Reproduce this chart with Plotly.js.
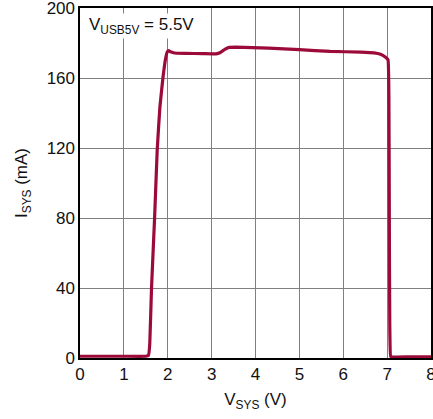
<!DOCTYPE html>
<html>
<head>
<meta charset="utf-8">
<script src="https://cdn.plot.ly/plotly-3.0.1.min.js"></script>
<style>
html,body{margin:0;padding:0;background:#fff;}
#chart{width:433px;height:419px;}
</style>
</head>
<body>
<div id="chart"></div>
<script>
// V_SYS (V)
const vsys = [0, 0.5, 1.0, 1.5, 1.56, 1.59, 1.63, 1.70, 1.76, 1.82, 1.89, 1.95, 1.99, 2.02, 2.08, 2.15, 2.4, 2.8, 3.1, 3.2, 3.3, 3.4, 3.55, 4.3, 5.0, 5.7, 6.4, 6.7, 6.85, 6.95, 7.02, 7.04, 7.05, 7.06, 7.08, 7.12, 7.5, 8.0];
// I_SYS (mA)
const isys = [1, 1, 1, 1, 1.5, 8, 40, 80, 119, 143, 160, 171, 175, 175.6, 174.8, 174.3, 174.1, 173.9, 173.8, 174.6, 176.3, 177.5, 177.6, 177.1, 176.2, 175.2, 174.8, 174.4, 173.6, 172.2, 170.4, 150, 80, 20, 1, 0.6, 0.6, 0.6];

const xTicks = [0,1,2,3,4,5,6,7,8];
const yTicks = [0,40,80,120,160,200];

const font = "'Liberation Sans', Arial, sans-serif";

const trace = {
  x: vsys, y: isys, type: 'scatter', mode: 'lines',
  line: {color: '#9b0a38', width: 3.2, shape: 'spline', smoothing: 0.3},
  hoverinfo: 'skip'
};

const layout = {
  width: 433, height: 419,
  margin: {l: 80, r: 2, t: 8, b: 61},
  paper_bgcolor: '#fff', plot_bgcolor: '#fff',
  showlegend: false,
  font: {family: font, size: 17, color: '#111'},
  xaxis: {
    range: [0, 8], tickvals: xTicks, ticktext: xTicks.map(String),
    showgrid: true, gridcolor: '#808080', gridwidth: 1,
    zeroline: false, showline: true, linecolor: '#000', linewidth: 1.6, mirror: true,
    ticks: '', ticklen: 0, ticklabeloverflow: 'allow',
    tickfont: {family: font, size: 17, color: '#111'},
    title: {text: 'V<sub>SYS</sub> (V)', font: {family: font, size: 17, color: '#111'}, standoff: 10}
  },
  yaxis: {
    range: [0, 200], tickvals: yTicks, ticktext: yTicks.map(String),
    showgrid: true, gridcolor: '#808080', gridwidth: 1,
    zeroline: false, showline: true, linecolor: '#000', linewidth: 1.6, mirror: true,
    ticks: '', ticklen: 0, ticklabeloverflow: 'allow',
    tickfont: {family: font, size: 17, color: '#111'},
    title: {text: 'I<sub>SYS</sub> (mA)', font: {family: font, size: 17, color: '#111'}, standoff: 14}
  },
  annotations: [{
    xref: 'paper', yref: 'paper', x: 0.02, y: 0.985, xanchor: 'left', yanchor: 'top',
    text: 'V<sub>USB5V</sub> = 5.5V', showarrow: false,
    font: {family: font, size: 17, color: '#111'}, bgcolor: '#fff'
  }]
};

Plotly.newPlot('chart', [trace], layout, {staticPlot: true, displayModeBar: false});
</script>
</body>
</html>
